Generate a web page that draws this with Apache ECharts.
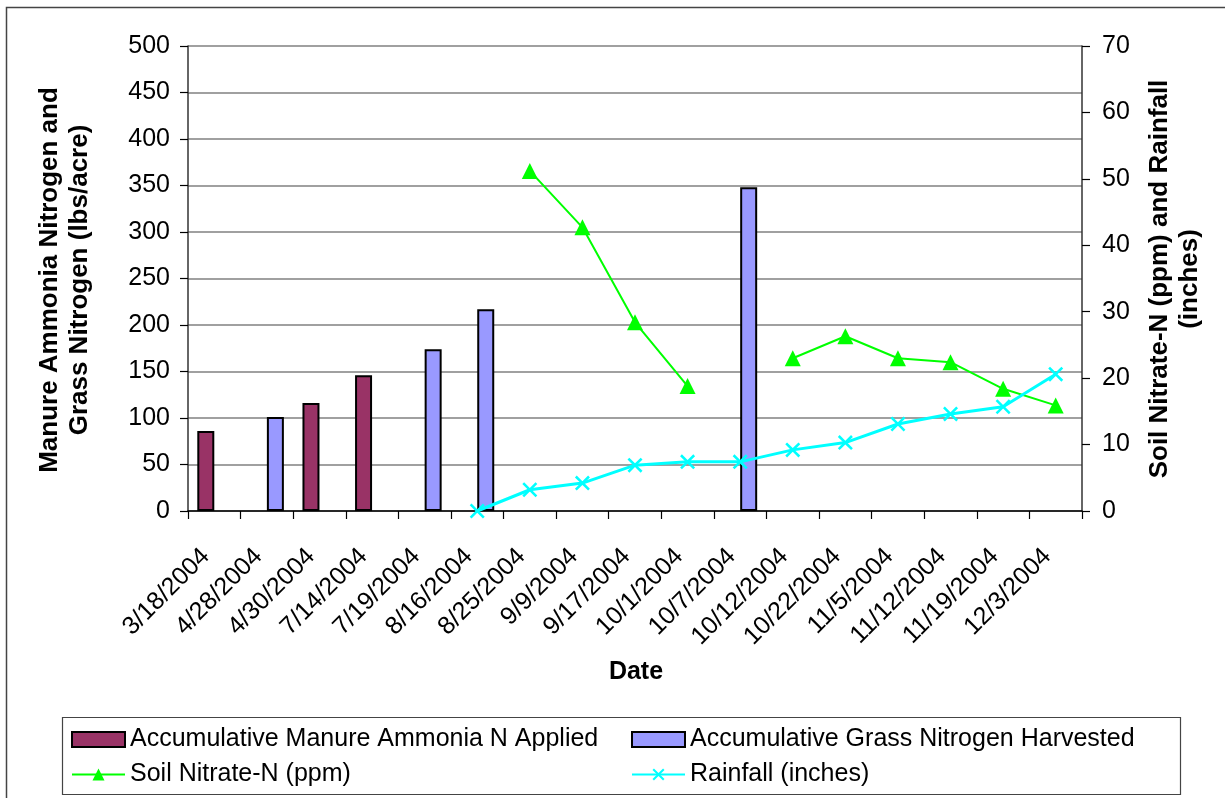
<!DOCTYPE html>
<html>
<head>
<meta charset="utf-8">
<script src="https://cdn.jsdelivr.net/npm/echarts@6/dist/echarts.min.js"></script>
<style>
  html, body { margin: 0; padding: 0; background: #fff; }
  #chart { width: 1225px; height: 798px; }
</style>
</head>
<body>
<div id="chart"></div>
<script>
// Sampling dates (category axis)
const dates = ['3/18/2004', '4/28/2004', '4/30/2004', '7/14/2004', '7/19/2004', '8/16/2004',
  '8/25/2004', '9/9/2004', '9/17/2004', '10/1/2004', '10/7/2004', '10/12/2004',
  '10/22/2004', '11/5/2004', '11/12/2004', '11/19/2004', '12/3/2004'];

// Accumulative manure ammonia N applied (lbs/acre)
const manureN = [86, null, 116, 146, null, null, null, null, null, null, null, null, null, null, null, null, null];

// Accumulative grass nitrogen harvested (lbs/acre)
const grassN = [null, 101, null, null, 174, 217, null, null, null, null, 348, null, null, null, null, null, null];

// Soil nitrate-N (ppm)
const soilNitrate = [null, null, null, null, null, null, 51.2, 42.7, 28.4, 18.8, null, 23.0, 26.3, 23.0, 22.4, 18.4, 15.9];

// Cumulative rainfall (inches)
const rainfall = [null, null, null, null, null, 0, 3.2, 4.2, 6.9, 7.4, 7.4, 9.2, 10.3, 13.1, 14.6, 15.7, 20.6];

const FONT = '"Liberation Sans", Arial, sans-serif';
const crossPath = 'path://M0,1.2L1.2,0L5,3.8L8.8,0L10,1.2L6.2,5L10,8.8L8.8,10L5,6.2L1.2,10L0,8.8L3.8,5Z';

const chart = echarts.init(document.getElementById('chart'), null, { renderer: 'canvas' });

const legendText = { fontSize: 25, color: '#000', fontFamily: FONT, lineHeight: 25 };

chart.setOption({
  backgroundColor: '#ffffff',
  animation: false,
  textStyle: { fontFamily: FONT },
  grid: { left: 188, right: 143, top: 46, bottom: 287, containLabel: false },
  xAxis: {
    type: 'category',
    data: dates,
    boundaryGap: true,
    axisLine: { lineStyle: { color: '#000', width: 1.5 } },
    axisTick: { show: true, length: 8, lineStyle: { color: '#000', width: 1.2 } },
    axisLabel: {
      rotate: 45, fontSize: 25, color: '#000', margin: 33, interval: 0,
      fontFamily: FONT, padding: [0, 12, 0, 0]
    },
    splitLine: { show: false }
  },
  yAxis: [
    {
      type: 'value', min: 0, max: 500, interval: 50, position: 'left',
      axisLine: { show: true, lineStyle: { color: '#333', width: 1.5 } },
      axisTick: { show: true, length: 8, lineStyle: { color: '#000', width: 1.2 } },
      axisLabel: { fontSize: 25, color: '#000', margin: 18, fontFamily: FONT },
      splitLine: { show: true, lineStyle: { color: '#808080', width: 1.5 } }
    },
    {
      type: 'value', min: 0, max: 70, interval: 10, position: 'right',
      axisLine: { show: true, lineStyle: { color: '#333', width: 1.5 } },
      axisTick: { show: true, length: 8, lineStyle: { color: '#000', width: 1.2 } },
      axisLabel: { fontSize: 25, color: '#000', margin: 20, fontFamily: FONT },
      splitLine: { show: false }
    }
  ],
  legend: [
    {
      left: 66, top: 722, orient: 'vertical', itemGap: 10,
      itemWidth: 53, itemHeight: 15,
      textStyle: legendText,
      data: [
        { name: 'Accumulative Manure Ammonia N Applied', icon: 'rect' },
        'Soil Nitrate-N (ppm)'
      ]
    },
    {
      left: 626, top: 722, orient: 'vertical', itemGap: 10,
      itemWidth: 53, itemHeight: 15,
      textStyle: legendText,
      data: [
        { name: 'Accumulative Grass Nitrogen Harvested', icon: 'rect' },
        'Rainfall (inches)'
      ]
    }
  ],
  series: [
    {
      name: 'Accumulative Manure Ammonia N Applied',
      type: 'bar', yAxisIndex: 0, data: manureN,
      barWidth: 17, barGap: '0%',
      itemStyle: { color: '#993366', borderColor: '#000', borderWidth: 2 }
    },
    {
      name: 'Accumulative Grass Nitrogen Harvested',
      type: 'bar', yAxisIndex: 0, data: grassN,
      barWidth: 17, barGap: '0%',
      itemStyle: { color: '#9999FF', borderColor: '#000', borderWidth: 2 }
    },
    {
      name: 'Soil Nitrate-N (ppm)',
      type: 'line', yAxisIndex: 1, data: soilNitrate,
      connectNulls: false,
      symbol: 'triangle', symbolSize: 16,
      lineStyle: { color: '#00FF00', width: 2 },
      itemStyle: { color: '#00FF00' }
    },
    {
      name: 'Rainfall (inches)',
      type: 'line', yAxisIndex: 1, data: rainfall,
      connectNulls: false,
      symbol: crossPath, symbolSize: 15,
      lineStyle: { color: '#00FFFF', width: 3 },
      itemStyle: { color: '#00FFFF' }
    }
  ],
  graphic: [
    {
      type: 'rect', left: 4, top: 5, silent: true,
      shape: { width: 1240, height: 820 },
      style: { fill: 'none', stroke: '#444', lineWidth: 1.5 }
    },
    {
      type: 'rect', left: 60, top: 715, silent: true,
      shape: { width: 1118, height: 77 },
      style: { fill: 'none', stroke: '#444', lineWidth: 1.2 }
    },
    {
      type: 'text', x: 65, y: 280, rotation: Math.PI / 2, silent: true,
      style: {
        text: 'Manure Ammonia Nitrogen and\nGrass Nitrogen (lbs/acre)',
        fontFamily: FONT, fontSize: 26, fontWeight: 'bold', fill: '#000',
        align: 'center', verticalAlign: 'middle', lineHeight: 30
      }
    },
    {
      type: 'text', x: 1175, y: 279, rotation: Math.PI / 2, silent: true,
      style: {
        text: 'Soil Nitrate-N (ppm) and Rainfall\n(inches)',
        fontFamily: FONT, fontSize: 26, fontWeight: 'bold', fill: '#000',
        align: 'center', verticalAlign: 'middle', lineHeight: 30
      }
    },
    {
      type: 'text', x: 636, y: 672, silent: true,
      style: {
        text: 'Date', fontFamily: FONT, fontSize: 25, fontWeight: 'bold', fill: '#000',
        align: 'center', verticalAlign: 'middle'
      }
    }
  ]
});
</script>
</body>
</html>
